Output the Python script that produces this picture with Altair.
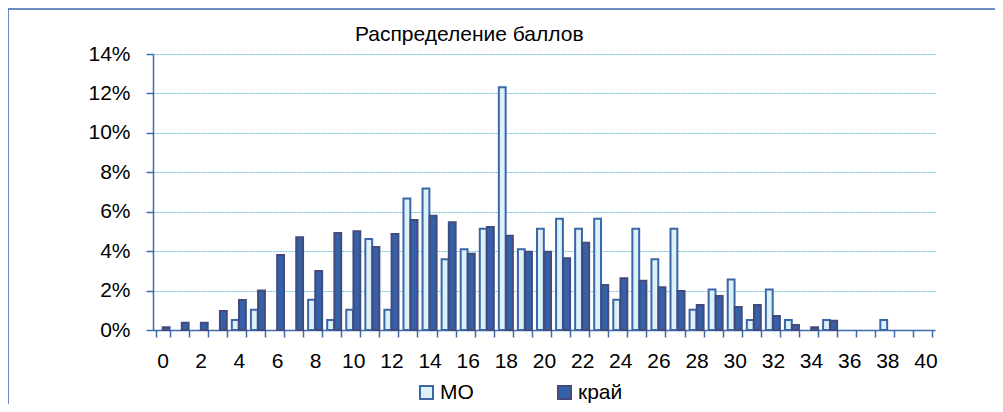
import altair as alt
import pandas as pd

scores = list(range(41))
series = ["МО", "край"]

mo = [0, 0, 0, 0, 0.51, 1.03, 0, 0, 1.54, 0.51,
      1.03, 4.62, 1.03, 6.67, 7.18, 3.59, 4.10, 5.13, 12.31, 4.10,
      5.13, 5.64, 5.13, 5.64, 1.54, 5.13, 3.59, 5.13, 1.03, 2.05,
      2.56, 0.51, 2.05, 0.51, 0, 0.51, 0, 0, 0.51, 0, 0]
kray = [0.14, 0.37, 0.37, 0.96, 1.52, 2.00, 3.81, 4.70, 2.99, 4.92,
        5.01, 4.21, 4.87, 5.58, 5.79, 5.47, 3.87, 5.23, 4.78, 3.97,
        3.97, 3.64, 4.43, 2.28, 2.62, 2.50, 2.17, 1.98, 1.27, 1.73,
        1.17, 1.27, 0.71, 0.25, 0.14, 0.47, 0, 0, 0, 0, 0]

y_ticks = [0, 2, 4, 6, 8, 10, 12, 14]

rows = []
for s, vals in zip(series, [mo, kray]):
    for sc, v in zip(scores, vals):
        rows.append({"score": sc, "series": s, "value": v})
df = pd.DataFrame(rows)

FONT = "Liberation Sans Narrow, Arial Narrow, Liberation Sans, Arial"
AXIS_BLUE = "#3F6AAD"
W, H = 782, 276
FS = 21

fill_scale = alt.Scale(domain=series, range=["#DDF1F9", "#3461A8"])
stroke_scale = alt.Scale(domain=series, range=["#3A67A8", "#434B7D"])

legend = alt.Legend(
    title=None, orient="none", direction="horizontal",
    legendX=263, legendY=328, symbolType="square", symbolSize=169,
    symbolStrokeWidth=2, labelFont=FONT, labelFontSize=FS,
    labelColor="#000000", columnPadding=80, labelOffset=3,
)

bars = alt.Chart(df).transform_filter("datum.value > 0").mark_bar(
    strokeWidth=2
).encode(
    x=alt.X("score:O",
            scale=alt.Scale(domain=scores, paddingInner=0.265, paddingOuter=0.1325),
            axis=alt.Axis(title=None, labelAngle=0, tickBand="extent",
                          labelExpr="datum.value % 2 == 0 ? datum.label : ''",
                          labelFont=FONT, labelFontSize=FS, labelColor="#000000",
                          labelPadding=13, tickSize=7, tickColor=AXIS_BLUE,
                          tickWidth=1.5, domainColor=AXIS_BLUE, domainWidth=1.5,
                          grid=False)),
    xOffset=alt.XOffset("series:N", scale=alt.Scale(domain=series, paddingInner=0.05)),
    y=alt.Y("value:Q",
            scale=alt.Scale(domain=[0, 14], nice=False),
            axis=alt.Axis(title=None, values=y_ticks,
                          labelExpr="datum.value + '%'",
                          labelFont=FONT, labelFontSize=FS, labelColor="#000000",
                          labelPadding=16, tickSize=7, tickColor=AXIS_BLUE,
                          tickWidth=1.5, domainColor=AXIS_BLUE, domainWidth=1.5,
                          grid=True, gridColor="#6EC3D8", gridDash=[2, 1],
                          gridWidth=1.2)),
    fill=alt.Fill("series:N", scale=fill_scale, legend=legend),
    stroke=alt.Stroke("series:N", scale=stroke_scale, legend=legend),
)

frame = alt.Chart(pd.DataFrame({"f": [0]})).mark_rect(
    filled=False, stroke=AXIS_BLUE, strokeWidth=1.5
).encode(
    x=alt.value(-145), x2=alt.value(W + 200),
    y=alt.value(-45), y2=alt.value(H + 300),
)

chart = alt.layer(frame, bars).properties(
    width=W, height=H,
    autosize=alt.AutoSizeParams(type="none"),
    padding={"left": 145, "top": 46, "right": 60, "bottom": 74},
    title=alt.TitleParams(
        "Распределение баллов", anchor="start", frame="group", dx=202,
        offset=0, dy=58, font=FONT, fontSize=FS, fontWeight="normal",
        color="#000000", baseline="bottom",
    ),
).configure_view(stroke=None)

chart.save("out.html", embed_options={"renderer": "svg", "actions": False})
